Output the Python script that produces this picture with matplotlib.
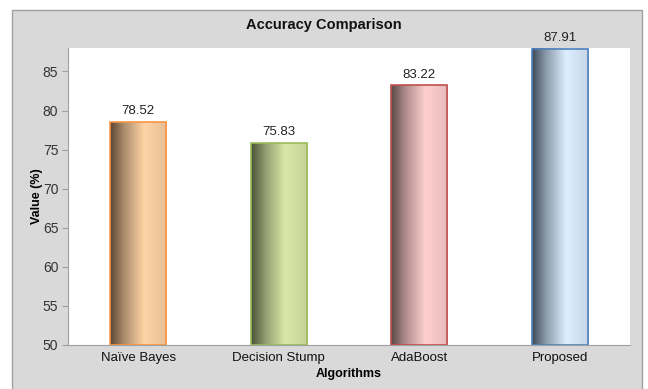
import numpy as np
import matplotlib
matplotlib.use("Agg")
import matplotlib.pyplot as plt
from matplotlib.colors import LinearSegmentedColormap, to_rgb
from matplotlib.patches import Rectangle

plt.rcParams['font.family'] = ['Liberation Sans', 'DejaVu Sans']

algorithms = ["Naïve Bayes", "Decision Stump", "AdaBoost", "Proposed"]
accuracy = [78.52, 75.83, 83.22, 87.91]
light_colors = ["#FFD4A6", "#D9E8A8", "#FFCFCF", "#DCEEFF"]
edge_colors = ["#F79646", "#9BBB59", "#C0504D", "#4F81BD"]
dark_colors = ["#5A4634", "#4A5238", "#5A4646", "#3E4A58"]

fig = plt.figure(figsize=(6.48, 3.89), dpi=100)
fig.patch.set_facecolor("white")
W, H = 648, 389
# grey chart panel, open at the bottom edge
fig.add_artist(Rectangle((12 / W, -5 / H), 630 / W, (H - 10 + 5) / H, transform=fig.transFigure,
                         facecolor="#D9D9D9", edgecolor="#A0A0A0", linewidth=1.0, zorder=-10))

ax = fig.add_axes([68 / W, (H - 345) / H, 562 / W, 297 / H])
ax.set_facecolor("white")
base = 50
width = 0.4

x = np.arange(len(algorithms))
for i, (val, lc, ec, dc) in enumerate(zip(accuracy, light_colors, edge_colors, dark_colors)):
    l = np.array(to_rgb(lc))
    d = np.array(to_rgb(dc))
    cmap = LinearSegmentedColormap.from_list(
        f"g{i}", [(0.0, d), (0.25, 0.5 * d + 0.5 * l), (0.6, l), (1.0, l * 0.9)])
    grad = np.linspace(0, 1, 256).reshape(1, -1)
    x0, x1 = x[i] - width / 2, x[i] + width / 2
    ax.imshow(grad, cmap=cmap, extent=(x0, x1, base, val), aspect="auto",
              interpolation="bicubic", zorder=2)
    ax.bar(x[i], val - base, bottom=base, width=width, facecolor="none",
           edgecolor=ec, linewidth=1.2, zorder=3)
    ax.text(x[i], val + 0.6, f"{val:.2f}", ha="center", va="bottom", fontsize=9.5,
            color="#222222", zorder=4)

ax.set_xlim(-0.5, 3.5)
ax.set_ylim(50, 88)
ax.set_xticks(x)
ax.set_xticklabels(algorithms, fontsize=9.5)
ax.set_yticks(np.arange(50, 86, 5))
ax.tick_params(axis="y", labelsize=10, labelcolor="#333333", length=4, color="#A0A0A0", pad=3)
ax.tick_params(axis="x", length=0, pad=5, labelcolor="#111111")
for s in ["top", "right"]:
    ax.spines[s].set_visible(False)
for s in ["left", "bottom"]:
    ax.spines[s].set_color("#A0A0A0")

ax.set_xlabel("Algorithms", fontsize=9, fontweight="bold", labelpad=3)
ax.set_ylabel("Value (%)", fontsize=9, fontweight="bold")
ax.yaxis.set_label_coords(-25 / 562, 0.5)
fig.text(0.5, 1 - 25 / H, "Accuracy Comparison", ha="center", va="center",
         fontsize=10.5, fontweight="bold", color="#111111")

fig.savefig("out.png", dpi=100)
